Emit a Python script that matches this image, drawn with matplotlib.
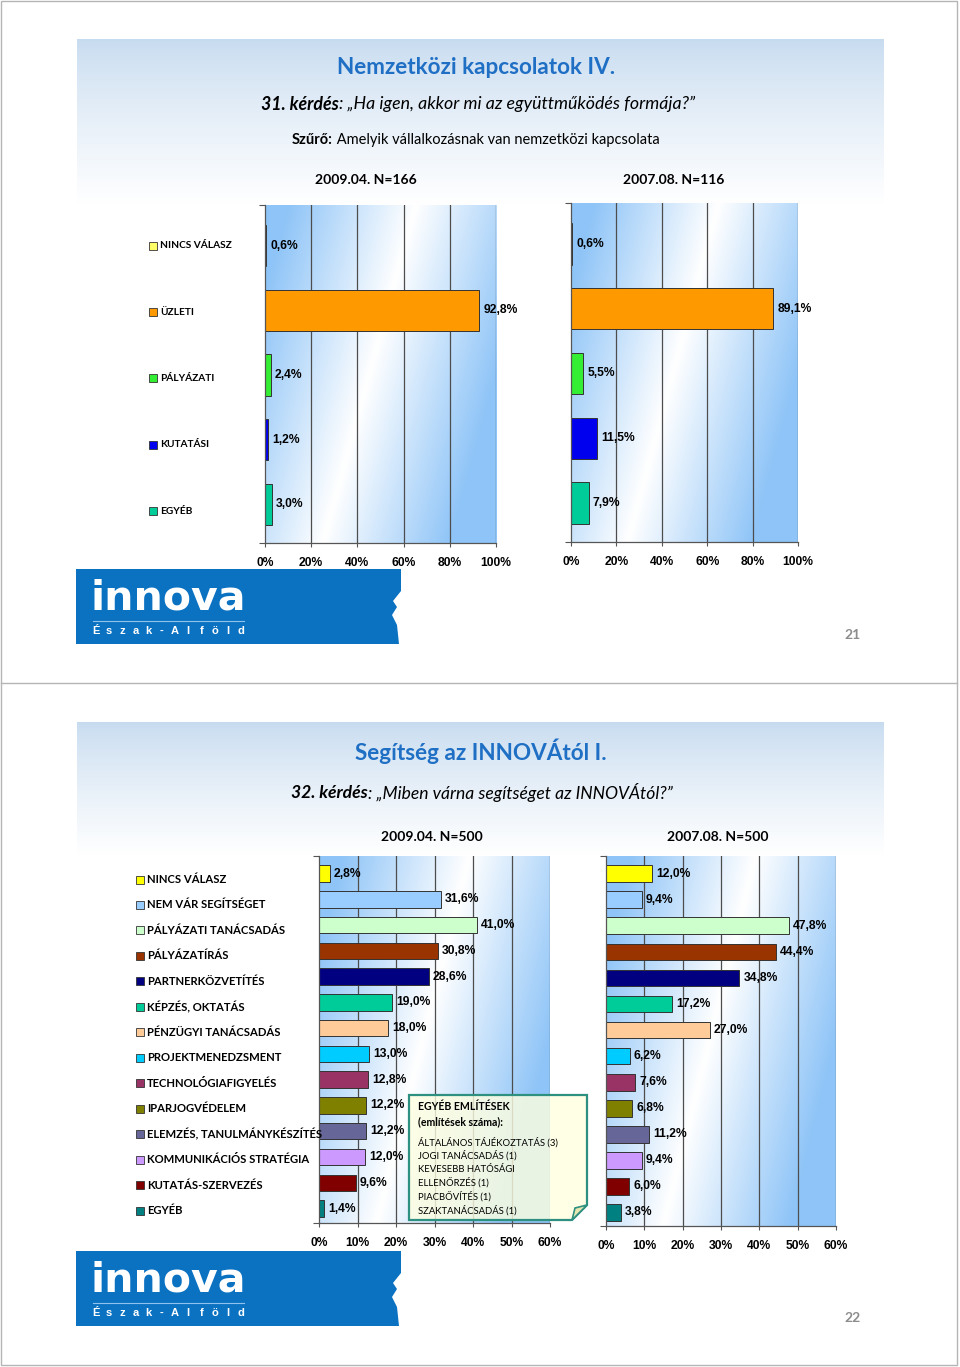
import numpy as np
import matplotlib.pyplot as plt
from matplotlib import transforms
from matplotlib.patches import Rectangle, Polygon

# ---- data -------------------------------------------------------------
cats_top = ['NINCS VÁLASZ', 'ÜZLETI', 'PÁLYÁZATI', 'KUTATÁSI', 'EGYÉB']
cols_top = ['#FFFF66', '#FF9900', '#33EE33', '#0000EE', '#00CC99']
vals_top_2009 = [0.6, 92.8, 2.4, 1.2, 3.0]
vals_top_2007 = [0.6, 89.1, 5.5, 11.5, 7.9]
ticks_top = [0, 20, 40, 60, 80, 100]

cats_bot = ['NINCS VÁLASZ', 'NEM VÁR SEGÍTSÉGET', 'PÁLYÁZATI TANÁCSADÁS', 'PÁLYÁZATÍRÁS',
            'PARTNERKÖZVETÍTÉS', 'KÉPZÉS, OKTATÁS', 'PÉNZÜGYI TANÁCSADÁS',
            'PROJEKTMENEDZSMENT', 'TECHNOLÓGIAFIGYELÉS', 'IPARJOGVÉDELEM',
            'ELEMZÉS, TANULMÁNYKÉSZÍTÉS', 'KOMMUNIKÁCIÓS STRATÉGIA',
            'KUTATÁS-SZERVEZÉS', 'EGYÉB']
cols_bot = ['#FFFF00', '#99CCFF', '#CCFFCC', '#993300', '#000080', '#00CC99', '#FFCC99',
            '#00CCFF', '#993366', '#808000', '#666699', '#CC99FF', '#800000', '#008080']
vals_bot_2009 = [2.8, 31.6, 41.0, 30.8, 28.6, 19.0, 18.0, 13.0, 12.8, 12.2, 12.2, 12.0, 9.6, 1.4]
vals_bot_2007 = [12.0, 9.4, 47.8, 44.4, 34.8, 17.2, 27.0, 6.2, 7.6, 6.8, 11.2, 9.4, 6.0, 3.8]
ticks_bot = [0, 10, 20, 30, 40, 50, 60]

egyeb_lines = ['ÁLTALÁNOS TÁJÉKOZTATÁS (3)', 'JOGI TANÁCSADÁS (1)', 'KEVESEBB HATÓSÁGI',
               'ELLENŐRZÉS (1)', 'PIACBŐVÍTÉS (1)', 'SZAKTANÁCSADÁS (1)']

#%%
W, H = 960, 1367
CAL = ['Lato', 'DejaVu Sans']
ARI = ['Liberation Sans', 'DejaVu Sans']
TITLE_BLUE = '#1F6FC5'

fig = plt.figure(figsize=(W/100, H/100), dpi=100)
bg = fig.add_axes([0, 0, 1, 1])
bg.axis('off')


def px_axes(l, t, r, b):
    return fig.add_axes([l/W, 1-b/H, (r-l)/W, (b-t)/H])


def band(y0, y1):
    g = np.linspace(0, 1, 100)[:, None, None]
    top = np.array([0.78, 0.86, 0.94])
    img = top + (1-top)*g**0.8
    img = np.repeat(img, 2, axis=1)
    bg.imshow(img, extent=[77, 884, y1, y0], aspect='auto', origin='upper', zorder=0)


def logo(y0):
    pts = [(76, y0), (401, y0), (401, y0+22), (393, y0+32), (397, y0+38), (392, y0+46),
           (397, y0+56), (399, y0+75), (76, y0+75)]
    bg.add_patch(Polygon(pts, closed=True, fc='#0B72C2', ec='none', zorder=2))
    bg.text(90, y0+30, 'innova', color='white', fontsize=29.5, fontweight='bold',
            family='DejaVu Sans', va='center', ha='left', zorder=3)
    bg.plot([93, 244], [y0+52, y0+52], color='#8fc3ee', lw=0.8, zorder=3)
    sub = 'Észak-Alföld'
    for ch, x in zip(sub, np.linspace(96, 241, len(sub))):
        bg.text(x, y0+62, ch, color='white', fontsize=8, fontweight='bold',
                family=ARI, va='center', ha='center', zorder=3)


def panel(box, vals, cols, ticks, ypad):
    ax = px_axes(*box)
    n = len(vals)
    ytop, ybot = -ypad[0], n-1+ypad[1]
    gx = np.linspace(0, 1, 300)
    gy = np.linspace(1, 0, 150)
    X, Y = np.meshgrid(gx, gy)
    c = 0.25 + 0.4*Y
    k = np.clip(np.abs(X-c)/0.55, 0, 1)
    blue = np.array([0.56, 0.77, 0.97])
    img = 1 - k[..., None]*(1-blue)
    ax.imshow(img, extent=[0, ticks[-1], ybot, ytop], aspect='auto', origin='upper',
              zorder=0, interpolation='bilinear')
    for t in ticks[1:]:
        ax.axvline(t, color='#4d4d4d', lw=0.9, zorder=1)
    ax.barh(range(n), vals, height=0.64, color=cols, edgecolor='#333333', lw=0.7, zorder=2)
    off = transforms.offset_copy(ax.transData, fig=fig, x=4, y=0, units='dots')
    for i, v in enumerate(vals):
        ax.text(v, i, ('%.1f' % v).replace('.', ',') + '%', transform=off, ha='left',
                va='center', fontsize=8.7, fontweight='bold', family=ARI, zorder=3)
    ax.set_xlim(0, ticks[-1])
    ax.set_ylim(ybot, ytop)
    ax.set_xticks(ticks)
    ax.set_xticklabels(['%d%%' % t for t in ticks], fontsize=8.7, fontweight='bold', family=ARI)
    ax.set_yticks([ytop, ybot])
    ax.set_yticklabels([])
    ax.tick_params(axis='x', length=3, color='#555555', pad=7)
    ax.tick_params(axis='y', length=4, color='#555555')
    for s in ['top', 'right']:
        ax.spines[s].set_visible(False)
    for s in ['left', 'bottom']:
        ax.spines[s].set_color('#555555')
        ax.spines[s].set_linewidth(0.9)
    return ax


def cat_labels(ax, cats, cols, xm, fs, dy0, dy1):
    tr = transforms.blended_transform_factory(bg.transData, ax.transData)
    n = len(cats)
    for i, (c, col) in enumerate(zip(cats, cols)):
        dy = dy0 + (dy1-dy0)*i/(n-1)
        t = transforms.offset_copy(tr, fig=fig, x=0, y=-dy, units='dots')
        ax.plot([xm], [i], marker='s', ms=5.5, mfc=col, mec='#333333', mew=0.6,
                transform=t, clip_on=False)
        ax.text(xm+7, i, c, transform=t, ha='left', va='center', fontsize=fs,
                fontweight='bold', family=CAL, clip_on=False)


#%%
# page frame
bg.add_patch(Rectangle((1, 1), 956, 1364, fill=False, ec='#b5b5b5', lw=1))
bg.plot([1, 957], [683, 683], color='#b5b5b5', lw=1)

# ---- slide 21 ----
band(39, 205)
bg.text(476, 68, 'Nemzetközi kapcsolatok IV.', color=TITLE_BLUE, fontsize=16.2,
        fontweight='bold', family=CAL, ha='center', va='center')
bg.text(339, 104, '31. kérdés', fontsize=12.8, fontweight='bold', style='italic',
        family=CAL, ha='right', va='center')
bg.text(339, 104, ': „Ha igen, akkor mi az együttműködés formája?”', fontsize=12.8,
        style='italic', family=CAL, ha='left', va='center')
bg.text(333, 140, 'Szűrő:', fontsize=10.5, fontweight='bold', family=CAL, ha='right', va='center')
bg.text(333, 140, ' Amelyik vállalkozásnak van nemzetközi kapcsolata', fontsize=10.5,
        family=CAL, ha='left', va='center')
bg.text(366, 180, '2009.04. N=166', fontsize=10, fontweight='bold', family=CAL,
        ha='center', va='center')
bg.text(674, 180, '2007.08. N=116', fontsize=10, fontweight='bold', family=CAL,
        ha='center', va='center')

ax1 = panel((265, 205, 496, 543), vals_top_2009, cols_top, ticks_top, (0.63, 0.6))
ax2 = panel((571, 203, 798, 542), vals_top_2007, cols_top, ticks_top, (0.63, 0.6))
cat_labels(ax1, cats_top, cols_top, 153, 7.3, 0, 7)

logo(569)
bg.text(853, 635, '21', color='#8c8c8c', fontsize=10, fontweight='bold', family=CAL,
        ha='center', va='center')

# ---- slide 22 ----
band(722, 856)
bg.text(481, 751, 'Segítség az INNOVÁtól I.', color=TITLE_BLUE, fontsize=16.2,
        fontweight='bold', family=CAL, ha='center', va='center')
bg.text(368, 793, '32. kérdés', fontsize=12.6, fontweight='bold', style='italic',
        family=CAL, ha='right', va='center')
bg.text(368, 793, ': „Miben várna segítséget az INNOVÁtól?”', fontsize=12.6,
        style='italic', family=CAL, ha='left', va='center')
bg.text(432, 837, '2009.04. N=500', fontsize=10, fontweight='bold', family=CAL,
        ha='center', va='center')
bg.text(718, 837, '2007.08. N=500', fontsize=10, fontweight='bold', family=CAL,
        ha='center', va='center')

ax3 = panel((319, 856, 550, 1223), vals_bot_2009, cols_bot, ticks_bot, (0.68, 0.56))
ax4 = panel((606, 856, 836, 1226), vals_bot_2007, cols_bot, ticks_bot, (0.68, 0.52))
cat_labels(ax3, cats_bot, cols_bot, 140, 8.1, 6, 2)

logo(1251)
bg.text(853, 1318, '22', color='#8c8c8c', fontsize=10, fontweight='bold', family=CAL,
        ha='center', va='center')

bg.set_xlim(0, W)
bg.set_ylim(H, 0)

# callout box on top of everything
top = fig.add_axes([0, 0, 1, 1])
top.axis('off')
top.set_xlim(0, W)
top.set_ylim(H, 0)
box = [(409, 1095), (587, 1095), (587, 1205), (572, 1220), (409, 1220)]
top.add_patch(Polygon(box, closed=True, fc='#FFFFE0', alpha=0.8, ec='none'))
top.add_patch(Polygon(box, closed=True, fill=False, ec='#2E9080', lw=1.6))
top.add_patch(Polygon([(572, 1220), (575, 1208), (587, 1205)], closed=True, fc='#E6E6B0',
                      ec='#2E9080', lw=1.2))
top.text(418, 1107, 'EGYÉB EMLÍTÉSEK', fontsize=7.6, fontweight='bold', family=CAL, va='center')
top.text(418, 1122, '(említések száma):', fontsize=7.6, fontweight='bold', family=CAL,
         va='center')
for j, s in enumerate(egyeb_lines):
    top.text(418, 1142 + j*13.6, s, fontsize=6.8, family=CAL, va='center')

fig.savefig('out.png', dpi=100)
